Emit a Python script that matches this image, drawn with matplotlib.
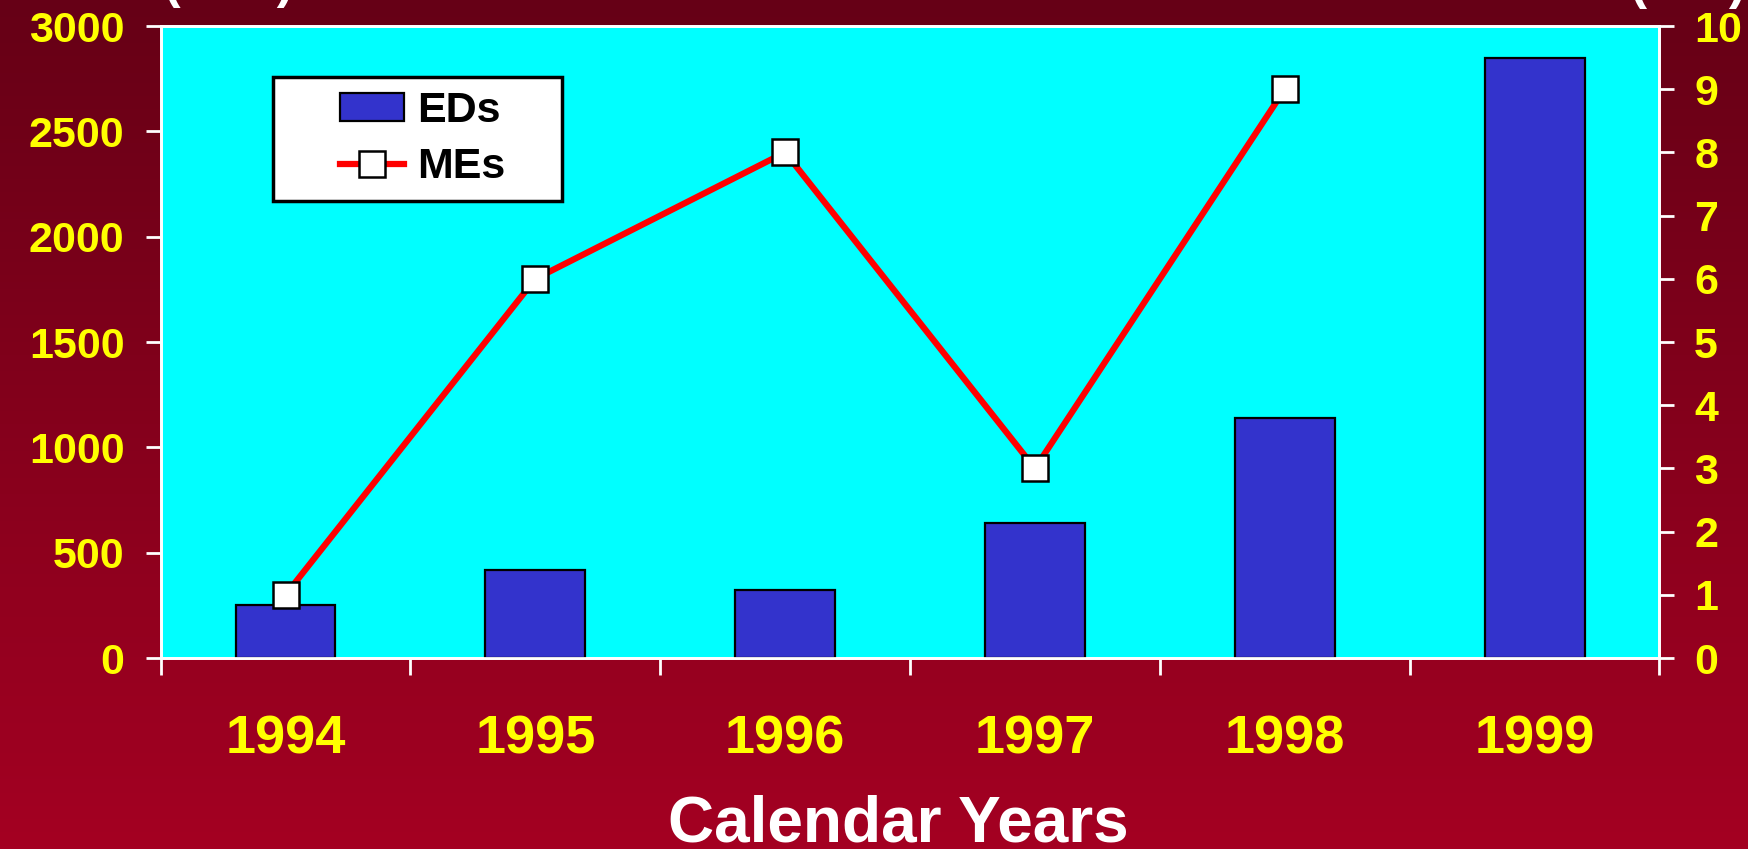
import numpy as np
import matplotlib
matplotlib.use("Agg")
import matplotlib.pyplot as plt
from matplotlib.path import Path

# ---- data ----
years = ["1994", "1995", "1996", "1997", "1998", "1999"]
eds = [250, 418, 323, 640, 1138, 2847]
mes = [1, 6, 8, 3, 9, np.nan]
left_ticks = [0, 500, 1000, 1500, 2000, 2500, 3000]
right_ticks = list(range(0, 11))

plt.rcParams['font.family'] = ['Liberation Sans', 'DejaVu Sans']
plt.rcParams['font.weight'] = 'bold'

fig = plt.figure(figsize=(17.49, 8.49), dpi=100)

# background gradient
bg = fig.add_axes([0, 0, 1, 1], zorder=-10)
top_c = np.array([0x66, 0x00, 0x16]) / 255
bot_c = np.array([0xa4, 0x00, 0x22]) / 255
t = np.linspace(0, 1, 256)[:, None]
grad = (top_c[None, :] * (1 - t) + bot_c[None, :] * t)[:, None, :]
bg.imshow(grad, aspect='auto', extent=[0, 1, 0, 1], origin='upper')
bg.set_axis_off()

W, H = 1749, 849
L, R, T, B = 160.6, 1659.5, 26, 658
ax = fig.add_axes([L / W, 1 - B / H, (R - L) / W, (B - T) / H])
ax.set_facecolor('#00ffff')

x = np.arange(len(years))
bars = ax.bar(x, eds, width=0.4, color='#3333cc', edgecolor='black',
              linewidth=1.6, label='EDs', zorder=3)
ax.set_xlim(-0.5, len(years) - 0.5)
ax.set_ylim(0, 3000)
ax.set_yticks(left_ticks)
ax.set_yticklabels([str(v) for v in left_ticks])

ax.set_xticks(x)
ax.set_xticklabels(years)
ax.set_xticks(np.arange(len(years) + 1) - 0.5, minor=True)
ax.tick_params(axis='x', which='major', length=0, pad=41, labelsize=39,
               labelcolor='#ffff00')
ax.tick_params(axis='x', which='minor', length=12, width=2, color='white',
               direction='out')
ax.tick_params(axis='y', which='major', length=11, width=2, color='white',
               direction='out', labelsize=31, labelcolor='#ffff00', pad=15)

ax2 = ax.twinx()
line, = ax2.plot(x, mes, color='#ff0000', linewidth=4.5, marker='s',
                 markersize=18.5, markerfacecolor='white',
                 markeredgecolor='black', markeredgewidth=1.8,
                 label='MEs', zorder=4)
ax2.set_ylim(0, 10)
ax2.set_yticks(right_ticks)
ax2.set_yticklabels([str(v) for v in right_ticks])
ax2.tick_params(axis='y', which='major', length=11, width=2, color='white',
                direction='out', labelsize=31, labelcolor='#ffff00', pad=14)

for a in (ax, ax2):
    for s in a.spines.values():
        s.set_color('white')
        s.set_linewidth(2)

ax.set_xlabel('Calendar Years', fontsize=46, color='white', fontweight='bold')
ax.xaxis.set_label_coords((898 - L) / (R - L), -(795 - B) / (B - T))
ax.xaxis.label.set_va('top')

PADL, PADR = 53, 43
leg = ax2.legend([bars, line], ['EDs', 'MEs'], loc='upper left',
                 bbox_to_anchor=((273 + PADL - L) / (R - L), (B - 77) / (B - T)),
                 borderaxespad=0, fontsize=31, frameon=True, fancybox=False,
                 facecolor='white', edgecolor='black', framealpha=1,
                 borderpad=0.32, labelspacing=0.38, handlelength=1.5,
                 handletextpad=0.3, handleheight=0.62)
for txt in leg.get_texts():
    txt.set_color('black')
    txt.set_fontweight('bold')
leg.get_frame().set_linewidth(2.5)

def wide_box(x0, y0, width, height, mutation_size):
    x0 = x0 - PADL
    width = width + PADL + PADR
    return Path([(x0, y0), (x0 + width, y0), (x0 + width, y0 + height),
                 (x0, y0 + height), (x0, y0)], closed=True)

leg.get_frame().set_boxstyle(wide_box)
leg.set_zorder(10)

# partially visible titles cut off at top edge
fig.text(229 / W, 1 + 2 / H, '(EDs)', ha='center', va='baseline',
         fontsize=36, color='white', fontweight='bold')
fig.text(1688 / W, 1 + 2 / H, '(No.)', ha='center', va='baseline',
         fontsize=37, color='white', fontweight='bold')

fig.savefig('out.png', dpi=100)
